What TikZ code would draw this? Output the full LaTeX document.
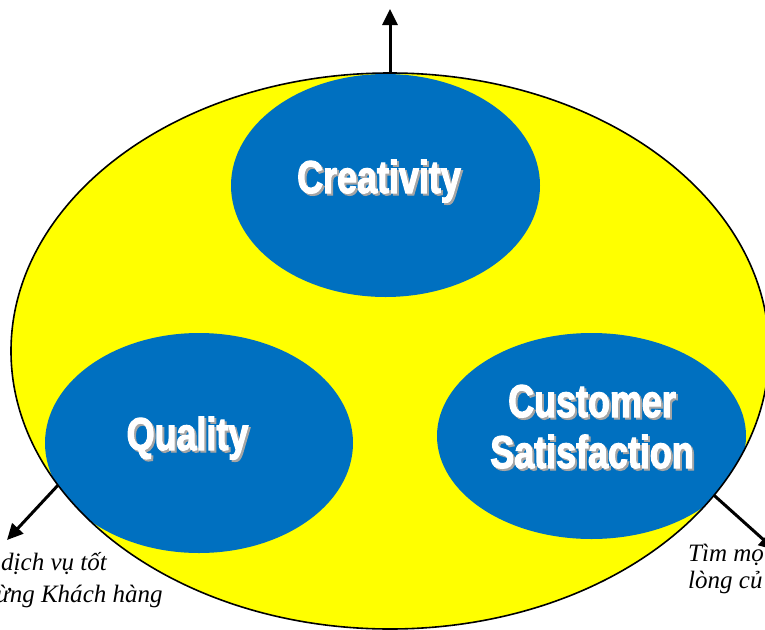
\documentclass[tikz,border=0pt]{standalone}
\usepackage{fontspec}
\setmainfont{Liberation Serif}
\newfontfamily\lblfont[FakeStretch=0.78, BoldFeatures={FakeBold=2.5}]{Liberation Sans}
\usetikzlibrary{shapes.geometric,arrows.meta}
\definecolor{sunyellow}{RGB}{255,255,0}
\definecolor{ovalblue}{RGB}{0,112,192}
\definecolor{shadowgray}{RGB}{165,165,165}
\newcommand{\shadowed}[1]{\makebox[0pt][l]{\kern2pt\raisebox{-2pt}{\color{shadowgray}#1}}#1}
\begin{document}
\begin{tikzpicture}[x=1pt,y=-1pt,
  outer/.style={ellipse, fill=sunyellow, minimum width=758pt, minimum height=556pt, inner sep=0pt, outer sep=0pt},
  outerline/.style={ellipse, draw=black, line width=1.6pt, minimum width=758pt, minimum height=556pt, inner sep=0pt, outer sep=0pt},
  oval/.style={ellipse, fill=ovalblue, inner sep=0pt, outer sep=0pt},
  lbl/.style={font=\lblfont\bfseries\fontsize{46}{51}\selectfont, text=white, inner sep=0pt, align=center, anchor=base},
  note/.style={font=\itshape\fontsize{25}{30}\selectfont, inner sep=0pt, anchor=base west},
  arrow/.style={line width=3pt, -{Triangle[length=16pt,width=15pt]}}
]
\useasboundingbox (0,0) rectangle (765,629);
\clip (0,0) rectangle (765,629);
% outer yellow ellipse
\node[outer] (outer) at (390,351) {};
% blue ovals, kept inside the outer ellipse
\begin{scope}
\clip (outer.center) ellipse [x radius=379, y radius=278];
\node[oval, minimum width=309pt, minimum height=223pt] (cre) at (385.5,185.5) {};
\node[oval, minimum width=308pt, minimum height=220pt] (qual) at (199,443) {};
\node[oval, minimum width=309pt, minimum height=206pt] (cust) at (591.5,436) {};
\end{scope}
% outline on top
\node[outerline] (outerln) at (outer) {};
% labels with shadow
\node[lbl] (creT) at (379,193) {\shadowed{Creativity}};
\node[lbl] (qualT) at (187.5,450) {\shadowed{Quality}};
\node[lbl] (custT) at (592,468) {\shadowed{Customer}\\\shadowed{Satisfaction}};
% arrows
\coordinate (topTip) at (390,9);
\coordinate (leftTip) at (7,540);
\coordinate (rightTip) at (775,550);
\draw[arrow] (outerln.north) -- (topTip);
\draw[arrow] (outerln.202.7) -- (leftTip);
\draw[arrow] (outerln.336.7) -- (rightTip);
% side notes
\node[note] (leftA) at (1,570) {dịch vụ tốt};
\node[note] (leftB) at (-4,602) {ừng Khách hàng};
\node[note] (rightA) at (688,561) {Tìm mọ};
\node[note] (rightB) at (688,588) {lòng củ};
\end{tikzpicture}
\end{document}
